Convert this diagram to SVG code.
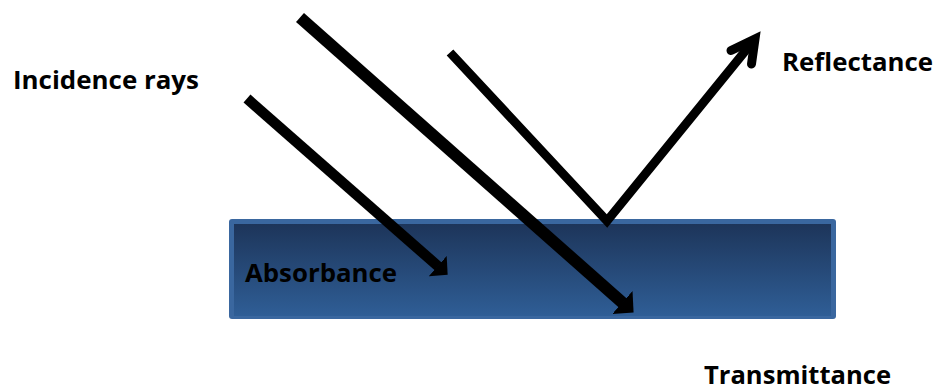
<svg xmlns="http://www.w3.org/2000/svg" width="940" height="390" viewBox="0 0 940 390">
  <style>
    .lbl { font-family: "Open Sans", "Liberation Sans", sans-serif; font-weight: 700; font-size: 25px; fill: #000; }
    .ray { fill: none; stroke: #000; stroke-linecap: butt; }
  </style>
  <defs>
    <linearGradient id="slabGrad" x1="0" y1="0" x2="0" y2="1">
      <stop offset="0" stop-color="#1d355a"/>
      <stop offset="1" stop-color="#2f5e96"/>
    </linearGradient>
    <marker id="head" viewBox="0 -1.35 1.35 2.7" markerWidth="1.35" markerHeight="2.7" refX="0.05" refY="0" orient="auto" markerUnits="strokeWidth">
      <path d="M0,-1.28 L1.25,0 L0,1.28 z" fill="#000"/>
    </marker>
  </defs>

  <g id="slab">
    <rect x="229" y="219" width="607" height="100" rx="3" fill="#3a679f"/>
    <rect x="234" y="224" width="597" height="92" fill="url(#slabGrad)"/>
  </g>

  <g id="labels">
    <text id="incidence" class="lbl" x="13" y="89" textLength="186" lengthAdjust="spacingAndGlyphs">Incidence rays</text>
    <text id="reflectance" class="lbl" x="782" y="71" textLength="151" lengthAdjust="spacingAndGlyphs">Reflectance</text>
    <text id="absorbance" class="lbl" x="245" y="282" textLength="152" lengthAdjust="spacingAndGlyphs">Absorbance</text>
    <text id="transmittance" class="lbl" x="704" y="384" textLength="187" lengthAdjust="spacingAndGlyphs">Transmittance</text>
  </g>

  <g id="connectors">
    <line id="ray-absorbed" class="ray" x1="247" y1="98.5" x2="438.2" y2="266.4" stroke-width="10.5" marker-end="url(#head)"/>
    <line id="ray-transmitted" class="ray" x1="300" y1="17.5" x2="622.8" y2="303" stroke-width="12" marker-end="url(#head)"/>
    <polyline id="ray-reflected" class="ray" points="450,52.5 607,221 755,39" stroke-width="9" stroke-linejoin="miter"/>
    <polyline id="reflect-head" points="731,50.5 755,39 751.5,64" fill="none" stroke="#000" stroke-width="9" stroke-linecap="round" stroke-linejoin="miter"/>
  </g>
</svg>
